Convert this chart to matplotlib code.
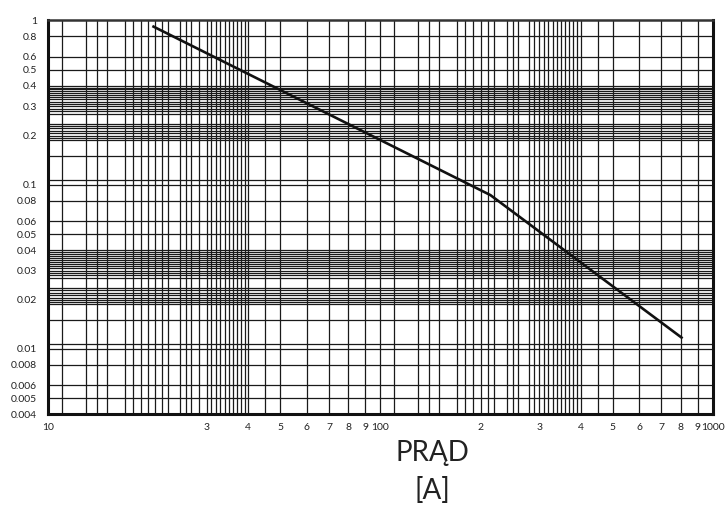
import matplotlib
matplotlib.use('Agg')
import matplotlib.pyplot as plt

plt.rcParams['font.family'] = ['Lato', 'DejaVu Sans']

# characteristic curve (current [A] vs time)
current = [20.6, 214, 810]
time_s = [0.923, 0.0864, 0.0116]

# axis ticks
xticks = [10, 30, 40, 50, 60, 70, 80, 90, 100, 200, 300, 400, 500, 600, 700, 800, 900, 1000]
xlabels = ['10', '3', '4', '5', '6', '7', '8', '9', '100', '2', '3', '4', '5', '6', '7', '8', '9', '1000']
yticks = [1, 0.8, 0.6, 0.5, 0.4, 0.3, 0.2, 0.1, 0.08, 0.06, 0.05, 0.04, 0.03, 0.02,
          0.01, 0.008, 0.006, 0.005, 0.004]
ylabels = ['1', '0.8', '0.6', '0.5', '0.4', '0.3', '0.2', '0.1', '0.08', '0.06', '0.05', '0.04',
           '0.03', '0.02', '0.01', '0.008', '0.006', '0.005', '0.004']

# grid lines as drawn on the original sheet
xgrid = [11, 13, 14, 15, 17, 18, 19, 20, 21, 22, 23, 25, 26, 27, 28.5,
         30, 31, 32, 33, 34, 35, 36, 37, 38, 39, 40, 45, 50, 60, 70, 80, 90,
         100, 110, 130, 140, 150, 170, 180, 190, 200, 210, 220, 240, 250, 260, 280, 290,
         300, 310, 320, 330, 340, 350, 360, 370, 380, 390, 400, 450, 500, 600, 700, 800, 900]
ygrid = [0.8, 0.6, 0.5,
         0.27, 0.28, 0.29, 0.30, 0.31, 0.32, 0.33, 0.34, 0.35, 0.36, 0.37, 0.38, 0.39, 0.40,
         0.187, 0.192, 0.198, 0.205, 0.213, 0.22, 0.227, 0.234,
         0.15, 0.107, 0.1, 0.08, 0.06, 0.05,
         0.027, 0.028, 0.029, 0.030, 0.031, 0.032, 0.033, 0.034, 0.035, 0.036, 0.037, 0.038, 0.039, 0.040,
         0.0187, 0.0192, 0.0198, 0.0205, 0.0213, 0.022, 0.0227, 0.0234,
         0.015, 0.0107, 0.01, 0.008, 0.006, 0.005]

fig = plt.figure(figsize=(7.26, 5.08), dpi=100)
ax = fig.add_axes([0.0661, 0.1844, 0.9160, 0.7756])
ax.set_xscale('log')
ax.set_yscale('log')
ax.set_xlim(10, 1000)
ax.set_ylim(0.004, 1)

for gx in xgrid:
    ax.axvline(gx, color='#1a1a1a', lw=0.9, zorder=1)
for gy in ygrid:
    ax.axhline(gy, color='#1a1a1a', lw=0.9, zorder=1)

ax.plot(current, time_s, color='#111111', lw=1.9, zorder=3, solid_capstyle='butt')

ax.set_xticks(xticks)
ax.set_xticklabels(xlabels)
ax.set_yticks(yticks)
ax.set_yticklabels(ylabels)
ax.minorticks_off()
ax.tick_params(axis='both', length=0, labelsize=7.5, colors='#222222')
ax.tick_params(axis='x', pad=6)
ax.tick_params(axis='y', pad=8)

for side in ['left', 'bottom', 'right']:
    ax.spines[side].set_linewidth(2.2)
    ax.spines[side].set_color('#111111')
ax.spines['top'].set_linewidth(1.8)
ax.spines['top'].set_color('#333333')

fig.text(0.596, 0.108, 'PRĄD', ha='center', va='center', fontsize=20, color='#222222')
fig.text(0.596, 0.035, '[A]', ha='center', va='center', fontsize=20, color='#222222')

plt.savefig('out.png', dpi=100)
